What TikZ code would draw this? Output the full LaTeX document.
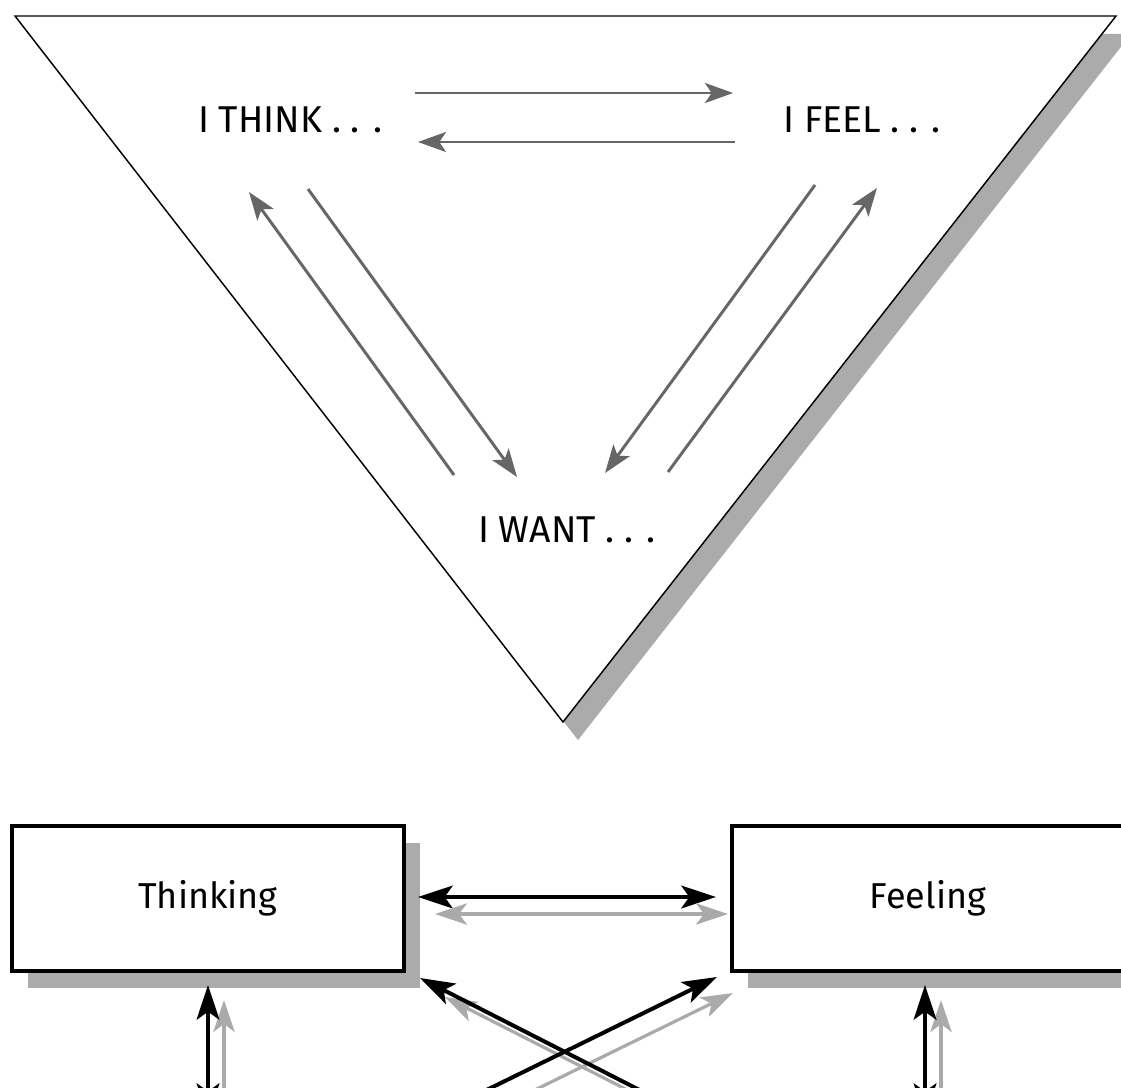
\documentclass[tikz,border=0pt]{standalone}
\usepackage{fontspec}
\setmainfont{Fira Sans}
\usetikzlibrary{arrows.meta}
\definecolor{tgray}{HTML}{666666}
\definecolor{sgray}{HTML}{ABABAB}
\definecolor{lgray}{HTML}{AAAAAA}
\begin{document}
\begin{tikzpicture}[x=0.75pt,y=-0.75pt,
  tlabel/.style={inner sep=0pt, font=\fontsize{28pt}{30pt}\selectfont},
  blabel/.style={inner sep=0pt, font=\fontsize{27pt}{30pt}\selectfont},
  tarrow/.style={draw=tgray, line width=2.2pt, -{Stealth[length=21pt,width=15pt,inset=5pt]}},
  barrow/.style={draw=black, line width=3pt, {Stealth[length=26pt,width=17pt,inset=6pt]}-{Stealth[length=26pt,width=17pt,inset=6pt]}},
  garrow/.style={draw=lgray, line width=2.4pt, {Stealth[length=24pt,width=16pt,inset=6pt]}-{Stealth[length=24pt,width=16pt,inset=6pt]}},
  bsingle/.style={draw=black, line width=3pt, -{Stealth[length=26pt,width=17pt,inset=6pt]}},
  gsingle/.style={draw=lgray, line width=2.4pt, -{Stealth[length=24pt,width=16pt,inset=6pt]}},
  boxshadow/.style={fill=sgray, draw=none},
  boxstyle/.style={fill=white, draw=black, line width=3pt}]
\useasboundingbox (0,0) rectangle (1121,1088);
\clip (0,0) rectangle (1121,1088);
\fill[white] (0,0) rectangle (1121,1088);

% triangle with shadow
\coordinate (A) at (15,16);
\coordinate (B) at (1116,16);
\coordinate (C) at (563,722);
\fill[sgray] ([shift={(15,18)}]A) -- ([shift={(15,18)}]B) -- ([shift={(15,18)}]C) -- cycle;
\draw[fill=white, line width=1.1pt, line join=miter] (A) -- (B) -- (C) -- cycle;

\node[tlabel] (think) at (290,120) {I THINK . . .};
\node[tlabel] (feel) at (862,120) {I FEEL . . .};
\node[tlabel] (want) at (567,530) {I WANT . . .};

\coordinate (t1s) at (415,93);  \coordinate (t1e) at (733,93);
\coordinate (t2s) at (735,142); \coordinate (t2e) at (418,142);
\coordinate (l1s) at (454,475); \coordinate (l1e) at (249,192);
\coordinate (l2s) at (308,189); \coordinate (l2e) at (517,477);
\coordinate (r1s) at (815,185); \coordinate (r1e) at (605,473);
\coordinate (r2s) at (668,472); \coordinate (r2e) at (877,188);
\draw[tarrow] (t1s) -- (t1e);
\draw[tarrow] (t2s) -- (t2e);
\draw[tarrow] (l1s) -- (l1e);
\draw[tarrow] (l2s) -- (l2e);
\draw[tarrow] (r1s) -- (r1e);
\draw[tarrow] (r2s) -- (r2e);

% boxes
\fill[boxshadow] (28,843) rectangle (420,988);
\fill[boxshadow] (748,843) rectangle (1140,988);
\draw[boxstyle] (12,826) rectangle (404,971);
\draw[boxstyle] (732,826) rectangle (1124,971);
\node[blabel] (thinking) at (208,898) {Thinking};
\node[blabel] (feeling) at (928,898) {Feeling};

% horizontal arrows
\coordinate (h1s) at (418,897); \coordinate (h1e) at (716,897);
\coordinate (h2s) at (435,914); \coordinate (h2e) at (728,914);
\draw[barrow] (h1s) -- (h1e);
\draw[garrow] (h2s) -- (h2e);

% crossing arrows
\coordinate (c1s) at (718,1130); \coordinate (c1e) at (420,978);
\coordinate (c2s) at (405,1130); \coordinate (c2e) at (717,977);
\coordinate (c3s) at (706,1130); \coordinate (c3e) at (445,997);
\coordinate (c4s) at (453,1130); \coordinate (c4e) at (733,993);
\draw[gsingle] (c3s) -- (c3e);
\draw[gsingle] (c4s) -- (c4e);
\draw[bsingle] (c1s) -- (c1e);
\draw[bsingle] (c2s) -- (c2e);

% vertical arrows
\coordinate (v1s) at (208,1118); \coordinate (v1e) at (208,985);
\coordinate (v2s) at (224,1130); \coordinate (v2e) at (224,1000);
\coordinate (v3s) at (925,1118); \coordinate (v3e) at (925,985);
\coordinate (v4s) at (941,1130); \coordinate (v4e) at (941,1000);
\draw[gsingle] (v2s) -- (v2e);
\draw[gsingle] (v4s) -- (v4e);
\draw[barrow] (v1s) -- (v1e);
\draw[barrow] (v3s) -- (v3e);
\end{tikzpicture}
\end{document}
